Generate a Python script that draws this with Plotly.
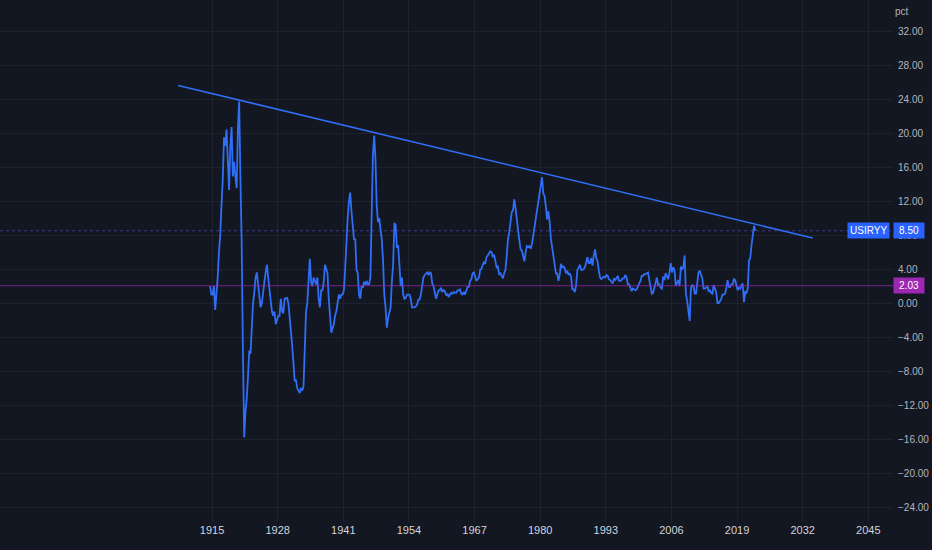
import numpy as np
import plotly.graph_objects as go

# ---------------- data ----------------
series_name = "USIRYY"
start_year = 1914.625          # first quarterly observation
step_years = 0.25              # quarterly spacing

cpi_yoy = [
    2.0, 1.0,                      # 1914 (Q3, Q4)
    1.0, 2.0, -0.8, 1.0,           # 1915
    3.0, 6.0, 8.0, 11.5,           # 1916
    14.5, 19.5, 18.5, 20.4,        # 1917
    17.5, 13.3, 18.5, 20.7,        # 1918
    14.9, 16.6, 14.9, 13.5,        # 1919
    20.4, 23.7, 14.8, 7.0,         # 1920
    -5.6, -15.8, -12.8, -11.3,     # 1921
    -8.7, -5.6, -6.0, -2.3,        # 1922
    0.0, 1.2, 3.0, 3.6,            # 1923
    2.4, 0.6, -0.5, 0.0,           # 1924
    1.5, 2.5, 3.6, 4.5,            # 1925
    3.0, 1.5, 0.0, -1.0,           # 1926
    -1.5, -1.0, -2.5, -2.0,        # 1927
    -1.5, -1.5, 0.5, -1.0,         # 1928
    -1.2, 0.5, 0.6, 0.6,           # 1929
    0.0, -1.5, -3.0, -5.0,         # 1930
    -7.0, -9.2, -9.0, -10.0,       # 1931
    -10.3, -10.6, -10.0, -10.3,    # 1932
    -9.8, -5.5, -1.0, 0.0,         # 1933
    3.5, 5.2, 2.5, 2.0,            # 1934
    3.0, 2.5, 2.2, 3.0,            # 1935
    0.5, -0.5, 1.5, 1.5,           # 1936
    2.5, 4.5, 4.0, 3.5,            # 1937
    0.5, -2.0, -3.5, -3.0,         # 1938
    -2.5, -1.5, -1.0, 0.0,         # 1939
    1.0, 0.5, 1.0, 1.0,            # 1940
    1.5, 4.0, 7.5, 10.0,           # 1941
    12.0, 13.0, 10.8, 9.5,         # 1942
    7.5, 7.5, 3.9, 3.5,            # 1943
    1.0, 0.5, 2.0, 1.8,            # 1944
    2.5, 2.1, 2.6, 2.2,            # 1945
    2.2, 3.0, 11.0, 17.5,          # 1946
    19.7, 17.0, 11.5, 9.5,         # 1947
    10.0, 8.5, 7.5, 5.0,           # 1948
    1.0, -0.5, -2.9, -1.8,         # 1949
    -1.0, -0.5, 2.5, 4.5,          # 1950
    9.4, 9.2, 6.5, 6.8,            # 1951
    4.5, 2.0, 3.0, 1.0,            # 1952
    0.5, 0.6, 1.0, 1.0,            # 1953
    1.0, 0.5, -0.5, -0.5,          # 1954
    -0.5, -0.4, -0.2, 0.4,         # 1955
    0.4, 1.0, 2.0, 3.0,            # 1956
    3.3, 3.5, 3.6, 3.3,            # 1957
    3.6, 3.5, 2.3, 2.0,            # 1958
    1.0, 0.5, 1.0, 1.5,            # 1959
    1.5, 1.8, 1.3, 1.5,            # 1960
    1.4, 0.9, 1.1, 0.7,            # 1961
    1.0, 1.2, 1.1, 1.3,            # 1962
    1.2, 1.2, 1.5, 1.5,            # 1963
    1.6, 1.1, 1.0, 1.3,            # 1964
    1.0, 1.6, 1.9, 1.9,            # 1965
    2.6, 2.8, 3.5, 3.6,            # 1966
    2.9, 2.6, 2.8, 3.0,            # 1967
    3.9, 4.0, 4.5, 4.8,            # 1968
    4.6, 5.4, 5.6, 5.8,            # 1969
    6.1, 6.0, 5.4, 5.7,            # 1970
    5.0, 4.2, 4.3, 3.4,            # 1971
    3.5, 3.2, 2.9, 3.5,            # 1972
    3.9, 5.5, 7.5, 8.3,            # 1973
    9.8, 10.7, 10.9, 12.2,         # 1974
    11.2, 9.5, 8.6, 7.4,           # 1975
    6.3, 6.2, 5.7, 4.9,            # 1976
    6.0, 6.7, 6.6, 6.7,            # 1977
    6.4, 6.9, 7.9, 8.9,            # 1978
    9.9, 10.9, 11.8, 12.6,         # 1979
    14.2, 14.8, 12.9, 12.6,        # 1980
    11.4, 9.8, 10.8, 9.6,          # 1981
    7.6, 6.7, 5.8, 4.6,            # 1982
    3.5, 3.5, 2.6, 3.3,            # 1983
    4.6, 4.2, 4.3, 4.1,            # 1984
    3.5, 3.8, 3.3, 3.5,            # 1985
    3.1, 1.6, 1.6, 1.3,            # 1986
    2.1, 3.9, 4.3, 4.5,            # 1987
    3.9, 3.9, 4.0, 4.2,            # 1988
    4.8, 5.4, 4.7, 4.7,            # 1989
    5.3, 4.4, 5.6, 6.3,            # 1990
    5.3, 4.9, 3.8, 3.0,            # 1991
    2.8, 3.0, 3.1, 3.0,            # 1992
    3.3, 3.2, 2.8, 2.7,            # 1993
    2.5, 2.3, 2.9, 2.7,            # 1994
    2.9, 3.2, 2.6, 2.6,            # 1995
    2.7, 2.9, 2.9, 3.3,            # 1996
    3.0, 2.2, 2.2, 1.8,            # 1997
    1.4, 1.7, 1.6, 1.5,            # 1998
    1.6, 2.1, 2.3, 2.6,            # 1999
    3.2, 3.2, 3.4, 3.4,            # 2000
    3.5, 3.6, 2.7, 1.9,            # 2001
    1.1, 1.2, 1.8, 2.2,            # 2002
    3.0, 2.1, 2.2, 1.8,            # 2003
    1.7, 3.1, 2.7, 3.5,            # 2004
    3.0, 2.8, 3.6, 4.7,            # 2005
    3.6, 4.2, 3.8, 2.0,            # 2006
    2.4, 2.7, 2.0, 4.3,            # 2007
    4.0, 4.2, 5.6, 1.1,            # 2008
    0.2, -1.3, -2.1, 1.8,          # 2009
    2.1, 2.0, 1.1, 1.1,            # 2010
    2.1, 3.6, 3.8, 3.4,            # 2011
    2.9, 1.7, 1.7, 1.8,            # 2012
    2.0, 1.4, 1.5, 1.2,            # 2013
    1.1, 2.1, 1.7, 1.3,            # 2014
    0.0, 0.0, 0.2, 0.5,            # 2015
    1.0, 1.0, 1.1, 1.7,            # 2016
    2.7, 1.9, 1.9, 2.2,            # 2017
    2.2, 2.8, 2.7, 2.2,            # 2018
    1.5, 1.8, 1.7, 2.1,            # 2019
    2.3, 0.1, 1.3, 1.2,            # 2020
    1.7, 5.0, 5.3, 6.8,            # 2021
    7.9, 9.1, 8.5,                 # 2022
]

trend_x = [1908.3, 2034.0]
trend_y = [25.6, 7.65]

last_value = 8.50
ref_level = 2.03

x_tick_years = [1915, 1928, 1941, 1954, 1967, 1980, 1993, 2006, 2019, 2032, 2045]
y_tick_values = [32, 28, 24, 20, 16, 12, 8, 4, 0, -4, -8, -12, -16, -20, -24]

# ---------------- figure ----------------
x_vals = start_year + step_years * np.arange(len(cpi_yoy))

BG = "#131722"
GRID = "#1e222d"
BLUE = "#2962ff"
LINE_BLUE = "#2f6ef5"
PURPLE = "#9c27b0"
TXT = "#b2b5be"
FONT = "Liberation Sans"

fig = go.Figure()

fig.add_trace(go.Scatter(
    x=x_vals, y=cpi_yoy, mode="lines",
    line=dict(color=LINE_BLUE, width=1.8), name=series_name, hoverinfo="skip",
))
fig.add_trace(go.Scatter(
    x=trend_x, y=trend_y, mode="lines",
    line=dict(color=LINE_BLUE, width=1.6), hoverinfo="skip",
))

# horizontal reference lines
fig.add_shape(type="line", xref="paper", x0=0, x1=1, yref="y", y0=ref_level, y1=ref_level,
              line=dict(color="rgba(156,39,176,0.75)", width=1))
fig.add_shape(type="line", xref="paper", x0=0, x1=1, yref="y", y0=last_value, y1=last_value,
              line=dict(color="rgba(90,80,200,0.6)", width=1, dash="dot"))

fig.update_layout(
    width=932, height=550,
    paper_bgcolor=BG, plot_bgcolor=BG,
    margin=dict(l=0, r=39, t=0, b=28),
    showlegend=False,
    font=dict(family=FONT, size=10, color=TXT),
    xaxis=dict(
        range=[1873.0, 2049.9], tickmode="array",
        tickvals=x_tick_years, ticktext=[str(v) for v in x_tick_years],
        showgrid=True, gridcolor=GRID, gridwidth=1, zeroline=False,
        showline=False, ticks="", tickfont=dict(color="#d1d4dc", size=11),
        fixedrange=True,
    ),
    yaxis=dict(
        side="right", range=[-25.76, 35.65], tickmode="array",
        tickvals=y_tick_values, tickformat=".2f",
        showgrid=True, gridcolor=GRID, gridwidth=1, zeroline=False,
        showline=False, ticks="", tickfont=dict(color=TXT, size=10),
        ticklabelstandoff=4,
        fixedrange=True,
    ),
)

annotations = [
    dict(text="pct", xref="paper", yref="paper", x=1.0, y=1.0, xanchor="left", yanchor="top",
         xshift=0, yshift=-4, showarrow=False, font=dict(color=TXT, size=10)),
    dict(text=series_name, xref="paper", yref="y", x=1.0, y=last_value, xanchor="right",
         yanchor="middle", xshift=-3, showarrow=False, bgcolor=BLUE, borderpad=2,
         font=dict(color="#ffffff", size=10)),
    dict(text=f"{last_value:.2f}", xref="paper", yref="y", x=1.0, y=last_value, xanchor="left",
         yanchor="middle", xshift=0, showarrow=False, bgcolor=BLUE, borderpad=2,
         width=26, font=dict(color="#ffffff", size=10)),
    dict(text=f"{ref_level:.2f}", xref="paper", yref="y", x=1.0, y=ref_level, xanchor="left",
         yanchor="middle", xshift=0, showarrow=False, bgcolor=PURPLE, borderpad=2,
         width=26, font=dict(color="#ffffff", size=10)),
]
fig.update_layout(annotations=annotations)

fig.write_html(
    "out.html",
    config=dict(displayModeBar=False),
    post_script="document.body.style.margin='0';document.body.style.background='#131722';",
)
